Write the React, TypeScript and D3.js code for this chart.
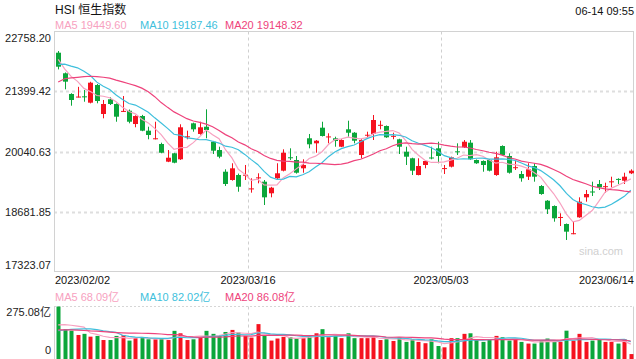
import React from 'react';
import * as d3 from 'd3';

// ---- data ----
const xTickIndex = [0, 30, 60, 89];
const xTickLabels = ['2023/02/02', '2023/03/16', '2023/05/03', '2023/06/14'];
const yTickValues = [22758.2, 21399.42, 20040.63, 18681.85, 17323.07];
const volMax = 275.08;

// closes of the 19 sessions before the window (for moving averages)
const prevCloses = [20145, 20793, 21052, 20992, 21388, 21331, 21436, 21514, 21739, 21747,
  21578, 21678, 21651, 22045, 22567, 22689, 22070, 21842, 22072];
const prevVolumes = [150, 160, 145, 170, 155, 140, 165, 150, 160, 155,
  120, 110, 115, 118, 115, 150, 160, 145, 155];

const opens = [22278, 21812, 21343, 21270, 21290, 21146, 21546, 20890, 21223, 21116,
  20940, 20964, 20663, 20844, 20512, 20320, 20210, 19810, 20000, 19864,
  20370, 20679, 20437, 20602, 20262, 20074, 19583, 19395, 19508, 19495,
  19190, 19440, 19357, 19094, 19434, 19606, 19910, 19848, 19660, 20340,
  20226, 20580, 20370, 20340, 20149, 20543, 20466, 19961, 20405, 20437,
  20630, 20618, 20385, 20317, 20036, 19887, 19508, 19735, 19905, 20113,
  19650, 19697, 20045, 20136, 20240, 19848, 19825, 19848, 19508, 20165,
  19939, 19672, 19531, 19470, 19712, 19259, 18926, 18806, 18542, 18399,
  18172, 18550, 19003, 19135, 19305, 19240, 19350, 19420, 19379, 19547];
const highs = [22316, 21830, 21360, 21505, 21433, 21620, 21570, 21207, 21268, 21130,
  21297, 20992, 20860, 20870, 20602, 20715, 20240, 20074, 20010, 20657,
  20512, 20694, 20715, 20996, 20280, 20149, 19637, 19774, 19540, 19735,
  19434, 19547, 19395, 19240, 19774, 20090, 20113, 19939, 19864, 20437,
  20300, 20715, 20453, 20376, 20320, 20738, 20480, 20320, 20489, 20867,
  20738, 20630, 20466, 20330, 20149, 19900, 19887, 19840, 20149, 20262,
  19735, 19925, 20226, 20300, 20300, 19860, 19840, 19870, 20036, 20180,
  20000, 19848, 19599, 19774, 19774, 19280, 18940, 18820, 18641, 18410,
  18451, 19003, 19169, 19357, 19395, 19334, 19470, 19434, 19560, 19637];
const lows = [21900, 21449, 21078, 21265, 21168, 21130, 21132, 20792, 21094, 20715,
  20935, 20679, 20589, 20500, 20317, 20315, 20000, 19800, 19774, 19850,
  20317, 20489, 20420, 20340, 19984, 19887, 19259, 19380, 19130, 19395,
  19108, 19320, 18829, 19003, 19420, 19590, 19848, 19540, 19560, 20113,
  20013, 20380, 20226, 20149, 20140, 20376, 20226, 19887, 20340, 20301,
  20543, 20350, 20317, 19984, 19735, 19508, 19500, 19660, 19864, 19774,
  19531, 19680, 19961, 20120, 19850, 19760, 19583, 19590, 19490, 19945,
  19540, 19622, 19357, 19395, 19357, 19060, 18625, 18451, 18353, 18037,
  18168, 18540, 18904, 19033, 19169, 19108, 19230, 19305, 19305, 19530];
const closes = [21961, 21622, 21207, 21285, 21272, 21599, 21184, 21116, 21116, 20829,
  20960, 20715, 20844, 20512, 20414, 20340, 20013, 19900, 19787, 20589,
  20385, 20543, 20589, 20527, 20059, 19923, 19305, 19660, 19243, 19515,
  19205, 19455, 19003, 19221, 19547, 20013, 19895, 19560, 19735, 20204,
  20285, 20392, 20382, 20278, 20301, 20466, 20285, 20301, 20420, 20754,
  20645, 20362, 20395, 20149, 19923, 19606, 19712, 19825, 19895, 19939,
  19665, 19909, 20030, 20262, 19864, 19774, 19735, 19606, 19909, 19961,
  19560, 19685, 19434, 19637, 19470, 19078, 18732, 18528, 18558, 18225,
  18190, 18904, 19078, 19125, 19230, 19255, 19365, 19405, 19470, 19606];
const volumes = [275, 154, 146, 123, 129, 114, 118, 96, 96, 118,
  123, 93, 106, 111, 100, 100, 102, 96, 145, 132,
  96, 100, 109, 145, 129, 118, 139, 150, 136, 118,
  109, 181, 118, 93, 104, 113, 111, 104, 106, 114,
  132, 154, 111, 118, 106, 132, 106, 106, 106, 114,
  96, 100, 91, 109, 86, 100, 86, 79, 100, 64,
  57, 106, 106, 129, 132, 100, 86, 100, 118, 111,
  93, 100, 86, 77, 77, 93, 104, 86, 86, 146,
  93, 129, 86, 93, 100, 86, 86, 77, 100, 21];

const priceLegend = [
  { label: 'MA5 19449.60', color: '#f7a1c0' },
  { label: 'MA10 19187.46', color: '#3ebfdc' },
  { label: 'MA20 19148.32', color: '#ee437c' },
];
const volLegend = [
  { label: 'MA5 68.09亿', color: '#f7a1c0' },
  { label: 'MA10 82.02亿', color: '#3ebfdc' },
  { label: 'MA20 86.08亿', color: '#ee437c' },
];
const maPeriods = [5, 10, 20];

const RED = '#f5121f';
const GREEN = '#0ba63a';
const FONT = '"Liberation Sans", Arial, "Noto Sans CJK SC", sans-serif';

function movingAverage(all: number[], offset: number, n: number) {
  return d3.range(offset, all.length).map((k) => d3.mean(all.slice(k - n + 1, k + 1)) as number);
}

export default function App() {
  const W = 636, H = 359;
  const frameL = 54, frameR = 633, frameT = 31.5, frameB = 271.5;
  const volT = 306.5, volB = 358;
  const n = closes.length;

  const x = d3.scaleBand<number>().domain(d3.range(n)).range([55, 634]).padding(0);
  const bw = x.bandwidth();
  const cx = (i: number) => (x(i) as number) + bw / 2;
  const y = d3.scaleLinear().domain([yTickValues[4], yTickValues[0]]).range([frameB, frameT]);
  const yv = d3.scaleLinear().domain([0, volMax]).range([volB, volT]);

  const allCloses = prevCloses.concat(closes);
  const allVols = prevVolumes.concat(volumes);
  const off = prevCloses.length;
  const priceMAs = maPeriods.map((p) => movingAverage(allCloses, off, p));
  const volMAs = maPeriods.map((p) => movingAverage(allVols, off, p));

  const linePrice = d3.line<number>().x((_, i) => cx(i)).y((d) => y(d));
  const lineVol = d3.line<number>().x((_, i) => cx(i)).y((d) => yv(d));

  const legendX = [55, 140, 225];
  const bodyW = 5;

  return (
    <div style={{ position: 'fixed', left: 0, top: 0 }}>
      <svg width={W} height={H} style={{ display: 'block', background: '#fff' }} fontFamily={FONT}>
        {/* header */}
        <text x={55} y={14} fontSize={12} fill="#111">HSI 恒生指数</text>
        <text x={634} y={15} fontSize={11} fill="#111" textAnchor="end">06-14 09:55</text>
        {priceLegend.map((l, k) => (
          <text key={k} x={legendX[k]} y={29} fontSize={11} fill={l.color}>{l.label}</text>
        ))}

        {/* grid */}
        {yTickValues.slice(1, 4).map((v, k) => (
          <line key={k} x1={frameL} x2={frameR} y1={Math.round(y(v)) + 0.5} y2={Math.round(y(v)) + 0.5}
            stroke="#dedede" strokeWidth={2} strokeDasharray="3,3" />
        ))}
        {xTickIndex.slice(1, 3).map((i, k) => (
          <g key={k}>
            <line x1={Math.round(x(i) as number) + 0.5} x2={Math.round(x(i) as number) + 0.5} y1={frameT} y2={frameB}
              stroke="#cfcfcf" strokeDasharray="3,3" />
            <line x1={Math.round(x(i) as number) + 0.5} x2={Math.round(x(i) as number) + 0.5} y1={volT} y2={H}
              stroke="#cfcfcf" strokeDasharray="3,3" />
          </g>
        ))}
        <rect x={frameL + 0.5} y={frameT} width={frameR - frameL} height={frameB - frameT}
          fill="none" stroke="#d2d2d2" />
        <text x={623} y={255} fontSize={11} fill="#d0d0d0" textAnchor="end">sina.com</text>

        {/* y labels */}
        {yTickValues.map((v, k) => {
          const yy = k === 0 ? frameT + 10.5 : k === 4 ? frameB - 3 : y(v) + 4;
          return <text key={k} x={51} y={yy} fontSize={11} fill="#222" textAnchor="end">{v.toFixed(2)}</text>;
        })}
        {/* x labels */}
        {xTickIndex.map((i, k) => {
          const anchor = k === 0 ? 'start' : k === 3 ? 'end' : 'middle';
          const xx = k === 0 ? 55 : k === 3 ? 634 : (x(i) as number);
          return <text key={k} x={xx} y={284} fontSize={11} fill="#111" textAnchor={anchor}>{xTickLabels[k]}</text>;
        })}

        {/* candles */}
        {closes.map((c, i) => {
          const o = opens[i];
          const up = c >= o;
          const col = up ? RED : GREEN;
          const xc = Math.round(cx(i));
          const top = y(Math.max(o, c));
          const bot = y(Math.min(o, c));
          const h = Math.max(1, bot - top);
          return (
            <g key={i}>
              <line x1={xc + 0.5} x2={xc + 0.5} y1={y(highs[i])} y2={y(lows[i])} stroke={col} />
              <rect x={xc - 2} y={top} width={bodyW} height={h} fill={col} />
            </g>
          );
        })}
        {priceMAs.map((ma, k) => (
          <path key={k} d={linePrice(ma) as string} fill="none" stroke={priceLegend[k].color} strokeWidth={1.2} />
        ))}

        {/* volume panel */}
        {volLegend.map((l, k) => (
          <text key={k} x={legendX[k]} y={301} fontSize={11} fill={l.color}>{l.label}</text>
        ))}
        <line x1={frameL} x2={frameR} y1={volT} y2={volT} stroke="#d6d6d6" strokeDasharray="2,2" />
        <line x1={frameL + 0.5} x2={frameL + 0.5} y1={volT} y2={H} stroke="#d2d2d2" />
        <line x1={frameR + 0.5} x2={frameR + 0.5} y1={volT} y2={H} stroke="#d2d2d2" />
        <text x={51} y={316} fontSize={11} fill="#222" textAnchor="end">{volMax.toFixed(2)}亿</text>
        <text x={51} y={354} fontSize={11} fill="#222" textAnchor="end">0</text>
        {volumes.map((v, i) => {
          const up = closes[i] >= opens[i];
          const xc = Math.round(cx(i));
          return <rect key={i} x={xc - 1.5} y={yv(v)} width={4} height={volB - yv(v) + 1} fill={up ? RED : GREEN} />;
        })}
        {volMAs.map((ma, k) => (
          <path key={k} d={lineVol(ma) as string} fill="none" stroke={volLegend[k].color} strokeWidth={1.2} />
        ))}
      </svg>
    </div>
  );
}
